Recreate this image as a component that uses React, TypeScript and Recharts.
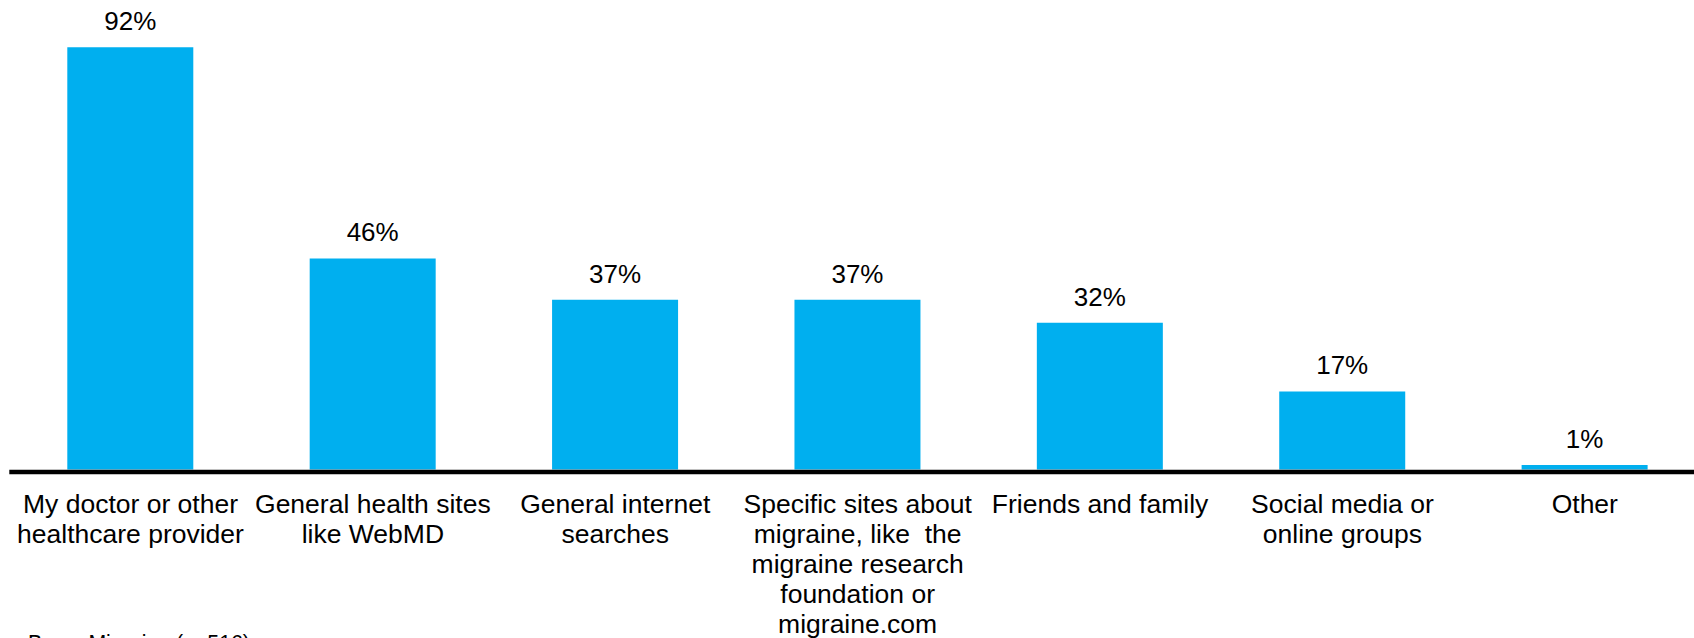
import React from "react";
import { BarChart, Bar, XAxis, YAxis, LabelList } from "recharts";

const categories: string[] = [
  "My doctor or other\nhealthcare provider",
  "General health sites\nlike WebMD",
  "General internet\nsearches",
  "Specific sites about\nmigraine, like  the\nmigraine research\nfoundation or\nmigraine.com",
  "Friends and family",
  "Social media or\nonline groups",
  "Other",
];
const values: number[] = [92, 46, 37, 37, 32, 17, 1];
const yDomain: [number, number] = [0, 100];
const baseNote = "Base: Migraine (n=516)";

const data = categories.map((c, i) => ({ name: c, value: values[i] }));

const FONT = "'Liberation Sans', Arial, Helvetica, sans-serif";
const BAR_COLOR = "#00AFEF";

const CategoryTick = (props: any) => {
  const { x, y, payload } = props;
  const lines = String(payload.value).split("\n");
  return (
    <text
      x={x}
      y={y + 43}
      textAnchor="middle"
      fill="#000"
      fontSize={26.5}
      fontFamily={FONT}
      style={{ whiteSpace: "pre" }}
    >
      {lines.map((l, i) => (
        <tspan key={i} x={x} dy={i === 0 ? 0 : 30}>
          {l}
        </tspan>
      ))}
    </text>
  );
};

const ValueLabel = (props: any) => {
  const { x, y, width, value } = props;
  return (
    <text
      x={Number(x) + Number(width) / 2}
      y={Number(y) - 17}
      textAnchor="middle"
      fill="#000"
      fontSize={26}
      fontFamily={FONT}
    >
      {`${value}%`}
    </text>
  );
};

export default function App() {
  return (
    <div
      style={{
        position: "fixed",
        top: 0,
        left: 0,
        width: 1694,
        height: 638,
        overflow: "hidden",
        background: "#fff",
      }}
    >
      <div style={{ position: "absolute", left: 8, top: 8 }}>
        <BarChart
          width={1698}
          height={660}
          data={data}
          margin={{ top: 2.6, right: 0, bottom: 0, left: 1.3 }}
        >
          <YAxis hide domain={yDomain} />
          <XAxis
            dataKey="name"
            interval={0}
            height={198.5}
            tickLine={false}
            tickSize={0}
            tickMargin={0}
            axisLine={{ stroke: "#000", strokeWidth: 4.6, transform: "translate(0,2.5)" }}
            tick={<CategoryTick />}
          />
          <Bar dataKey="value" fill={BAR_COLOR} barSize={126} isAnimationActive={false}>
            <LabelList dataKey="value" content={<ValueLabel />} />
          </Bar>
          <text x={20} y={642} fill="#000" fontSize={21.3} fontFamily={FONT}>
            {baseNote}
          </text>
        </BarChart>
      </div>
    </div>
  );
}
